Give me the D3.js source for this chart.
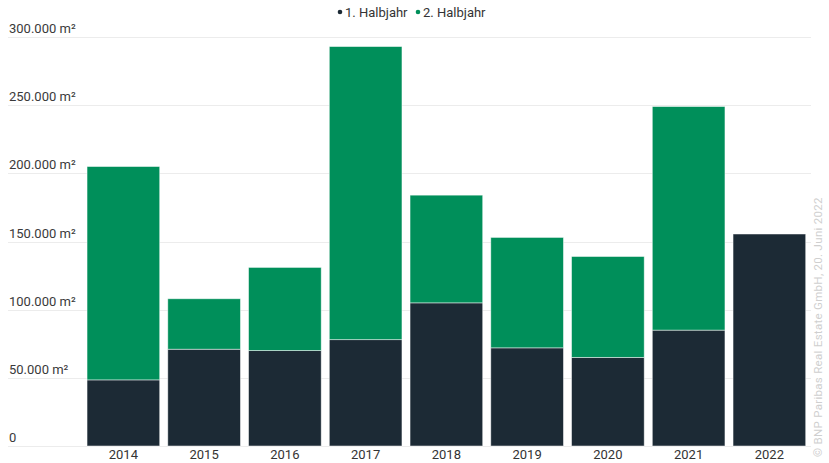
<!DOCTYPE html>
<html>
	<head>
		<meta charset="utf-8">
		<style>
* {
	margin: 0;
	padding: 0;
}
body {
	background: #fff;
}
svg {
	display: block;
	font-family: "Roboto", "Liberation Sans", sans-serif;
}
		</style>
	</head>
	<body>
		<div id="chart"></div>
		<script src="https://cdn.jsdelivr.net/npm/d3@7"></script>
		<script>

var years = [ '2014', '2015', '2016', '2017', '2018', '2019', '2020', '2021', '2022' ];
var halbjahr1 = [ 48500, 71000, 70000, 78000, 105000, 72000, 65000, 85000, 155500 ];
var halbjahr2 = [ 156500, 37000, 61000, 215000, 79000, 81000, 74000, 164000, 0 ];
var seriesNames = [ '1. Halbjahr', '2. Halbjahr' ];
var seriesColors = [ '#1c2a35', '#008f5a' ];
var yTicks = [ 0, 50000, 100000, 150000, 200000, 250000, 300000 ];

var width = 829;
var height = 463;

var svg = d3.select( '#chart' ).append( 'svg' )
	.attr( 'width', width )
	.attr( 'height', height );

var x = d3.scaleBand()
	.domain( years )
	.range( [ 83, 809.75 ] )
	.paddingInner( 0.1 )
	.paddingOuter( 0.05 );

var y = d3.scaleLinear()
	.domain( [ 0, 300000 ] )
	.range( [ 446, 37 ] );

var fmt = function ( v ) {
	if ( v === 0 ) return '0';
	return d3.format( ',' )( v ).replace( /,/g, '.' ) + ' m²';
};

// gridlines + labels
var grid = svg.append( 'g' ).selectAll( 'g' )
	.data( yTicks )
	.enter()
	.append( 'g' );

grid.append( 'line' )
	.attr( 'x1', 8 )
	.attr( 'x2', 811 )
	.attr( 'y1', function ( d ) { return Math.round( y( d ) ) + 0.5; } )
	.attr( 'y2', function ( d ) { return Math.round( y( d ) ) + 0.5; } )
	.style( 'stroke', '#ececec' )
	.style( 'stroke-width', 1 );

grid.append( 'text' )
	.attr( 'x', 9 )
	.attr( 'y', function ( d ) { return y( d ) - 4; } )
	.style( 'font-size', '13px' )
	.style( 'fill', '#3a3a3a' )
	.text( fmt );

// stacked bars
var rows = years.map( function ( yr, i ) {
	return { year: yr, h1: halbjahr1[i], h2: halbjahr2[i] };
} );
var stack = d3.stack().keys( [ 'h1', 'h2' ] )( rows );

svg.append( 'g' ).selectAll( 'g' )
	.data( stack )
	.enter()
	.append( 'g' )
	.style( 'fill', function ( d, i ) { return seriesColors[i]; } )
	.selectAll( 'rect' )
	.data( function ( d ) { return d.filter( function ( s ) { return s[1] > s[0]; } ); } )
	.enter()
	.append( 'rect' )
	.attr( 'x', function ( d ) { return x( d.data.year ); } )
	.attr( 'width', x.bandwidth() )
	.attr( 'y', function ( d ) { return y( d[1] ); } )
	.attr( 'height', function ( d ) { return y( d[0] ) - y( d[1] ); } )
	.style( 'stroke', '#ffffff' )
	.style( 'stroke-opacity', 0.6 )
	.style( 'stroke-width', 0.8 );

// x labels
svg.append( 'g' ).selectAll( 'text' )
	.data( years )
	.enter()
	.append( 'text' )
	.attr( 'x', function ( d ) { return x( d ) + x.bandwidth() / 2; } )
	.attr( 'y', 459 )
	.attr( 'text-anchor', 'middle' )
	.style( 'font-size', '13px' )
	.style( 'fill', '#333' )
	.text( function ( d ) { return d; } );

// legend
var legend = svg.append( 'g' ).attr( 'transform', 'translate(338,12)' );
var legendX = [ 0, 78 ];
var items = legend.selectAll( 'g' )
	.data( seriesNames )
	.enter()
	.append( 'g' )
	.attr( 'transform', function ( d, i ) { return 'translate(' + legendX[i] + ',0)'; } );

items.append( 'circle' )
	.attr( 'cx', 2 )
	.attr( 'cy', 0 )
	.attr( 'r', 2.3 )
	.style( 'fill', function ( d, i ) { return seriesColors[i]; } );

items.append( 'text' )
	.attr( 'x', 7 )
	.attr( 'y', 4.5 )
	.style( 'font-size', '13px' )
	.style( 'fill', '#333' )
	.text( function ( d ) { return d; } );

// copyright
svg.append( 'text' )
	.attr( 'transform', 'translate(822,457) rotate(-90)' )
	.style( 'font-size', '11.5px' )
	.style( 'letter-spacing', '0.3px' )
	.style( 'fill', '#cfcfcf' )
	.text( '© BNP Paribas Real Estate GmbH, 20. Juni 2022' );

		</script>
	</body>
</html>
